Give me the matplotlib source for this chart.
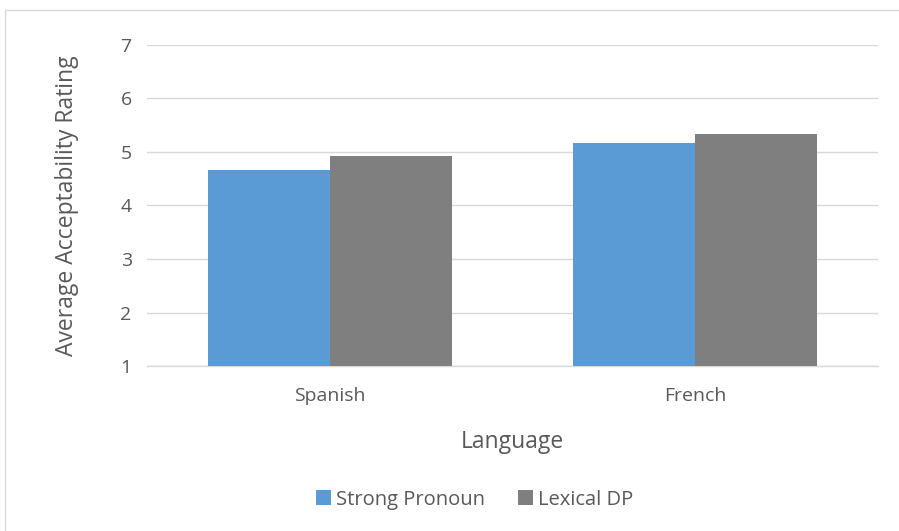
import matplotlib
matplotlib.use("Agg")
import matplotlib.pyplot as plt
from matplotlib.patches import Rectangle
import numpy as np

LANGUAGES = ["Spanish", "French"]
STRONG_PRONOUN = [4.66, 5.17]
LEXICAL_DP = [4.93, 5.34]
SERIES_NAMES = ["Strong Pronoun", "Lexical DP"]

TEXT_COLOR = "#595959"
BLUE = "#5B9BD5"
GRAY = "#7F7F7F"
GRID = "#D9D9D9"


def main():
    plt.rcParams["font.family"] = ["Open Sans", "DejaVu Sans"]

    fig = plt.figure(figsize=(8.99, 5.31), dpi=100)
    ax = fig.add_axes([0.1635, 0.3107, 0.8131, 0.6046])

    # light frame around the whole chart, like the Excel chart area
    fig.patches.append(Rectangle((5 / 899, -0.01), 1.0, 1 - 10 / 531 + 0.01,
                                 transform=fig.transFigure, fill=False,
                                 edgecolor="#D9D9D9", linewidth=1.0))

    x = np.arange(len(LANGUAGES))
    width = 0.334
    ax.bar(x - width / 2, np.array(STRONG_PRONOUN) - 1, width, bottom=1,
           color=BLUE, label=SERIES_NAMES[0], zorder=3)
    ax.bar(x + width / 2, np.array(LEXICAL_DP) - 1, width, bottom=1,
           color=GRAY, label=SERIES_NAMES[1], zorder=3)

    ax.set_xlim(-0.5, 1.5)
    ax.set_ylim(1, 7)
    ax.set_yticks(range(1, 8))
    ax.set_xticks(x)
    ax.set_xticklabels(LANGUAGES)
    ax.grid(axis="y", color=GRID, linewidth=1.0, zorder=0)
    for side in ["top", "right", "left"]:
        ax.spines[side].set_visible(False)
    ax.spines["bottom"].set_color(GRID)
    ax.spines["bottom"].set_linewidth(1.0)
    ax.tick_params(axis="both", length=0, colors=TEXT_COLOR, labelsize=14)
    ax.tick_params(axis="y", pad=11)
    ax.tick_params(axis="x", pad=15)

    ax.set_xlabel("Language", fontsize=16.5, color=TEXT_COLOR, labelpad=18)
    ax.set_ylabel("Average Acceptability Rating", fontsize=16.5,
                  color=TEXT_COLOR, labelpad=30)

    ax.legend(loc="center", bbox_to_anchor=(0.528, 0.059),
              bbox_transform=fig.transFigure, ncol=2, frameon=False,
              fontsize=14.5, labelcolor=TEXT_COLOR, handlelength=0.75,
              handleheight=0.75, handletextpad=0.25, columnspacing=1.6)

    fig.savefig("out.png", dpi=100)


if __name__ == "__main__":
    main()
